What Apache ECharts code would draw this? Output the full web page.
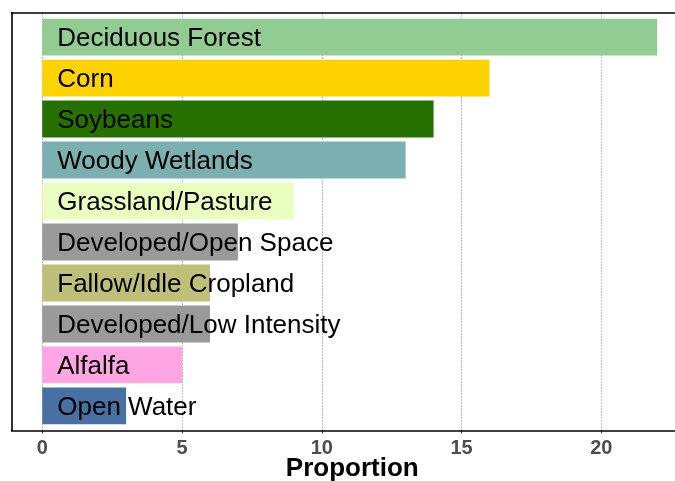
<!DOCTYPE html>
<html>
<head>
<meta charset="utf-8">
<script src="https://cdn.jsdelivr.net/npm/echarts@6/dist/echarts.min.js"></script>
<style>html,body{margin:0;padding:0;background:#fff;}#c{width:675px;height:481px;}</style>
</head>
<body>
<div id="c"></div>
<script>
var categories = ['Deciduous Forest','Corn','Soybeans','Woody Wetlands','Grassland/Pasture','Developed/Open Space','Fallow/Idle Cropland','Developed/Low Intensity','Alfalfa','Open Water'];
var values = [22, 16, 14, 13, 9, 7, 6, 6, 5, 3];
var colors = ['#93cc93','#ffd300','#267000','#7cafaf','#e8ffbf','#9a9a9a','#bfbf7a','#9a9a9a','#ffa5e2','#4970a3'];
var xTicks = [0, 5, 10, 15, 20];
var axisTitle = 'Proportion';

var chart = echarts.init(document.getElementById('c'), null, {renderer: 'canvas'});
var font = "'Liberation Sans', Arial, sans-serif";
var L = 42.25, R = 675 - (42.25 + 20 * 27.95);
var frameLine = {show: true, lineStyle: {color: '#000', width: 1.6}};
chart.setOption({
  animation: false,
  backgroundColor: '#fff',
  grid: [
    {left: 11.5, right: 0, top: 12.5, bottom: 50.5, show: false, outerBoundsMode: 'none', containLabel: false},
    {left: L, right: R, top: 12.5, bottom: 50.5, show: false, outerBoundsMode: 'none', containLabel: false},
    {left: L, right: R, top: 16.6, bottom: 54.6, show: false, outerBoundsMode: 'none', containLabel: false}
  ],
  xAxis: [
    {gridIndex: 0, type: 'value', min: 0, max: 1, position: 'bottom', axisLine: frameLine, axisTick: {show: false}, axisLabel: {show: false}, splitLine: {show: false}, z: 5},
    {gridIndex: 1, type: 'value', min: xTicks[0], max: xTicks[xTicks.length - 1], interval: 5,
      axisLine: {show: false},
      axisTick: {show: true, length: 3, lineStyle: {color: '#333', width: 1}},
      axisLabel: {show: true, margin: 8, color: '#4d4d4d', fontSize: 20, fontWeight: 'bold', fontFamily: font},
      splitLine: {show: true, lineStyle: {color: '#7a7a7a', type: [1, 2], width: 1}},
      name: axisTitle, nameLocation: 'middle', nameGap: 25, nameMoveOverlap: false,
      nameTextStyle: {fontSize: 26, fontWeight: 'bold', color: '#000', fontFamily: font, padding: [0, 0, 0, 61]}
    },
    {gridIndex: 2, type: 'value', min: 0, max: 20, show: false},
    {gridIndex: 0, type: 'value', min: 0, max: 1, position: 'top', axisLine: frameLine, axisTick: {show: false}, axisLabel: {show: false}, splitLine: {show: false}, z: 5}
  ],
  yAxis: [
    {gridIndex: 0, type: 'value', min: 0, max: 1, position: 'left', axisLine: frameLine, axisTick: {show: false}, axisLabel: {show: false}, splitLine: {show: false}, z: 5},
    {gridIndex: 1, type: 'value', show: false},
    {gridIndex: 2, type: 'category', data: categories, inverse: true, show: false}
  ],
  series: [{
    type: 'bar',
    xAxisIndex: 2, yAxisIndex: 2,
    clip: false,
    barWidth: '90%',
    data: values.map(function (v, i) { return {value: v, itemStyle: {color: colors[i]}}; }),
    label: {
      show: true, position: 'insideLeft', distance: 15, offset: [0, 2],
      formatter: function (p) { return categories[p.dataIndex]; },
      color: '#000', fontSize: 26, fontFamily: font, textBorderWidth: 0
    },
    z: 3
  }]
});
</script>
</body>
</html>
